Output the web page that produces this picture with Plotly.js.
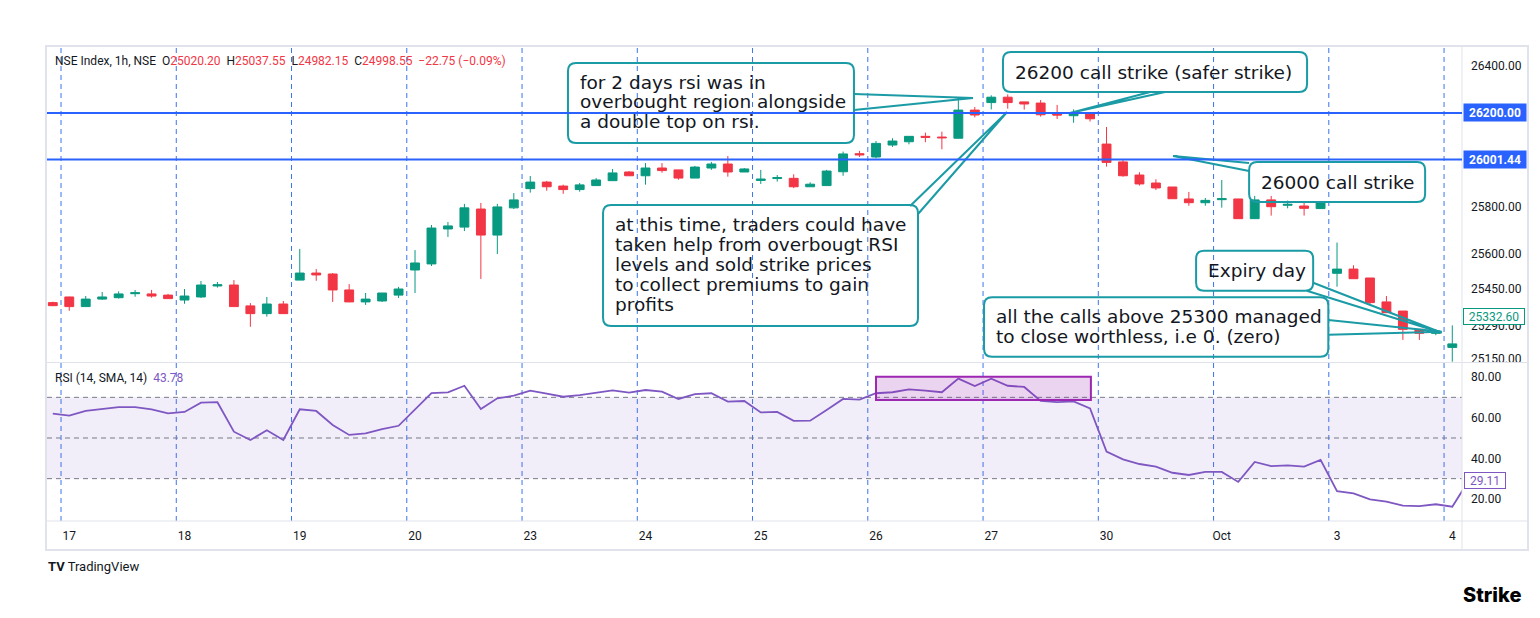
<!DOCTYPE html>
<html>
<head>
<meta charset="utf-8">
<script src="https://cdn.plot.ly/plotly-3.0.1.min.js"></script>
<style>
    html, body { margin: 0; padding: 0; background: #ffffff; }
    #chart { width: 1540px; height: 618px; }
</style>
</head>
<body>
<div id="chart"></div>
<script>
// NSE index, 1h bars, 16 Sep (last bar) .. 4 Oct. Bar index 0 = last bar of the 16th.
const opens = [25391, 25415, 25374, 25406, 25412, 25429, 25428, 25423, 25402, 25415, 25462, 25466, 25377, 25344, 25385,
    25487, 25517, 25513, 25445, 25394, 25398, 25423, 25530, 25556, 25705, 25713, 25790, 25679, 25795,
    25877, 25905, 25888, 25873, 25890, 25911, 25948, 25932, 25965, 25957, 25922, 25965, 25982, 25948,
    25912, 25920, 25921, 25885, 25890, 25949, 26026, 26012, 26063, 26077, 26100, 26097, 26092, 26212,
    26244, 26267, 26247, 26242, 26195, 26188, 26201, 26067, 25991, 25935, 25901, 25884, 25833, 25817,
    25830, 25833, 25749, 25829, 25806, 25803, 25792, 25516, 25534, 25496, 25394, 25355, 25277, 25260,
    25200, 25212];
const highs = [25395, 25416, 25419, 25436, 25439, 25445, 25445, 25428, 25449, 25483, 25479, 25487, 25389, 25415, 25398,
    25620, 25534, 25517, 25470, 25432, 25432, 25458, 25615, 25722, 25735, 25812, 25816, 25812, 25858,
    25931, 25910, 25894, 25901, 25922, 25961, 25952, 25986, 25986, 25957, 25974, 25991, 26016, 25965,
    25957, 25935, 25938, 25904, 25957, 26035, 26038, 26080, 26092, 26100, 26116, 26120, 26255, 26225,
    26275, 26279, 26247, 26255, 26234, 26215, 26201, 26140, 26003, 25947, 25917, 25884, 25863, 25837,
    25914, 25833, 25846, 25846, 25826, 25820, 25821, 25647, 25550, 25496, 25419, 25355, 25277, 25277,
    25294, 25367];
const lows = [25376, 25356, 25373, 25402, 25408, 25416, 25412, 25407, 25386, 25411, 25455, 25373, 25288, 25331, 25343,
    25487, 25484, 25394, 25393, 25381, 25394, 25411, 25432, 25547, 25671, 25696, 25492, 25598, 25790,
    25860, 25868, 25855, 25864, 25889, 25910, 25932, 25894, 25945, 25915, 25922, 25957, 25928, 25948,
    25897, 25907, 25879, 25885, 25889, 25932, 26012, 26006, 26055, 26066, 26075, 26045, 26091, 26181,
    26215, 26218, 26214, 26184, 26174, 26158, 26163, 25971, 25928, 25890, 25871, 25834, 25804, 25804,
    25796, 25748, 25748, 25762, 25793, 25762, 25791, 25459, 25493, 25385, 25348, 25232, 25232, 25252,
    25139, 25207];
const closes = [25378, 25374, 25406, 25415, 25428, 25433, 25419, 25408, 25419, 25466, 25467, 25374, 25344, 25385, 25344,
    25517, 25509, 25445, 25394, 25406, 25432, 25449, 25560, 25709, 25718, 25795, 25679, 25799, 25829,
    25905, 25885, 25873, 25893, 25914, 25944, 25932, 25965, 25954, 25922, 25969, 25982, 25948, 25961,
    25918, 25924, 25885, 25896, 25952, 26025, 26021, 26070, 26080, 26100, 26096, 26094, 26212, 26191,
    26267, 26244, 26238, 26192, 26191, 26201, 26175, 25989, 25932, 25897, 25880, 25834, 25817, 25827,
    25834, 25749, 25829, 25800, 25810, 25793, 25817, 25534, 25493, 25391, 25348, 25277, 25260, 25270,
    25215, 25333];
const rsiValues = [62.0, 61.0, 63.3, 64.1, 65.2, 65.2, 64.1, 62.1, 62.8, 67.4, 67.6, 53.1, 49.0, 53.8, 49.0,
    64.1, 63.3, 56.4, 51.5, 52.3, 54.4, 56.0, 64.3, 72.1, 72.4, 75.7, 64.3, 69.5, 70.8,
    73.3, 71.8, 70.3, 71.1, 72.1, 73.4, 72.3, 73.6, 72.8, 69.2, 71.6, 72.0, 67.9, 68.2,
    62.6, 62.8, 58.4, 58.5, 63.8, 69.2, 68.9, 72.0, 72.5, 73.9, 73.3, 72.5, 79.2, 75.6,
    79.2, 75.7, 75.1, 68.2, 67.6, 68.0, 64.6, 43.3, 39.5, 37.2, 35.9, 32.9, 31.8, 33.3,
    33.3, 28.4, 38.2, 36.2, 36.5, 35.9, 39.2, 23.9, 22.8, 19.8, 18.7, 16.7, 16.5, 17.4,
    16.2, 29.11];
const dayLabels = ["17", "18", "19", "20", "23", "24", "25", "26", "27", "30", "Oct", "3", "4"];
const priceTicks = [26400, 25800, 25600, 25450, 25290, 25150];
const rsiTicks = [80, 60, 40, 20];
const strikeLevels = [26200, 26001.44];
const lastPrice = 25332.60;
const lastRsi = 29.11;
const BARS_PER_DAY = 7;

const GREEN = "#089981";
const RED = "#F23645";
const BLUE = "#2962FF";
const TEAL = "#1A9BA5";
const PURPLE = "#7E57C2";
const TEXT = "#131722";
const FONT = "Roboto, 'Liberation Sans', sans-serif";
const CALLOUT_FONT = "'DejaVu Sans', 'Noto Sans', sans-serif";

// plot area geometry (px) and scale helpers for drawings
const M = { l: 47, r: 78, t: 46, b: 97 };
const PLOT_W = 1540 - M.l - M.r;
const PLOT_H = 618 - M.t - M.b;
const BAR_PX = 16.464;
const PRICE_PER_PX = 4.2644;
const paperX = (px) => (px - M.l) / PLOT_W;
const paperY = (py) => (618 - M.b - py) / PLOT_H;

const bars = opens.map((_, i) => i);
const dayStarts = dayLabels.map((_, d) => 1 + d * BARS_PER_DAY);
const sessionBreaks = dayLabels.map((_, d) => 0.5 + d * BARS_PER_DAY);

// callout drawings: box [x0, x1, yBottom, yTop] in bar index / price, tail = base, tip, base
const callouts = [
    { box: [31.29, 48.66, 26071.6, 26412.8], tail: [[48.66, 26280.6], [55.89, 26263.5], [48.66, 26212.4]],
      lines: ["for 2 days rsi was in", "overbought region alongside", "a double top on rsi."], padTop: 19, lineH: 19.6 },
    { box: [33.42, 52.55, 25291.3, 25807.3], tail: [[52.07, 25803.0], [57.96, 26203.8], [52.55, 25768.9]],
      lines: ["at this time, traders could have", "taken help from overbougt RSI", "levels and sold strike prices",
          "to collect premiums to gain", "profits"], padTop: 19.5, lineH: 20 },
    { box: [57.71, 76.18, 26289.1, 26459.7], tail: [[66.65, 26289.1], [61.78, 26199.6], [67.55, 26289.1]],
      lines: ["26200 call strike (safer strike)"], padTop: 20, lineH: 20 },
    { box: [72.66, 83.35, 25820.0, 25990.6], tail: [[72.66, 25986.4], [68.04, 26016.2], [72.66, 25952.2]],
      lines: ["26000 call strike"], padTop: 20, lineH: 20 },
    { box: [69.44, 76.55, 25441.8, 25612.4], tail: [[76.55, 25475.9], [84.36, 25262.7], [76.16, 25441.8]],
      lines: ["Expiry day"], padTop: 19.5, lineH: 20 },
    { box: [56.56, 77.47, 25160.3, 25413.6], tail: [[77.47, 25316.8], [84.36, 25267.0], [77.47, 25254.1]],
      lines: ["all the calls above 25300 managed", "to close worthless, i.e 0. (zero)"], padTop: 19.4, lineH: 20 }
];

function roundedBoxPath(box, radiusPx) {
    const [x0, x1, y0, y1] = box;
    const rx = radiusPx / BAR_PX;
    const ry = radiusPx * PRICE_PER_PX;
    return `M ${x0 + rx},${y1} L ${x1 - rx},${y1} Q ${x1},${y1} ${x1},${y1 - ry} ` +
        `L ${x1},${y0 + ry} Q ${x1},${y0} ${x1 - rx},${y0} L ${x0 + rx},${y0} Q ${x0},${y0} ${x0},${y0 + ry} ` +
        `L ${x0},${y1 - ry} Q ${x0},${y1} ${x0 + rx},${y1} Z`;
}

const candles = {
    type: "candlestick",
    x: bars,
    open: opens,
    high: highs,
    low: lows,
    close: closes,
    xaxis: "x",
    yaxis: "y",
    increasing: { line: { color: GREEN, width: 1 }, fillcolor: GREEN },
    decreasing: { line: { color: RED, width: 1 }, fillcolor: RED },
    whiskerwidth: 0,
    hoverinfo: "skip",
    showlegend: false
};

const rsiLine = {
    type: "scatter",
    mode: "lines",
    x: bars,
    y: rsiValues,
    xaxis: "x",
    yaxis: "y2",
    line: { color: PURPLE, width: 1.8 },
    hoverinfo: "skip",
    showlegend: false
};

const shapes = [];

// session breaks across both panes
sessionBreaks.forEach((k) => shapes.push({
    type: "line", xref: "x", yref: "paper", x0: k, x1: k, y0: 0, y1: 1,
    line: { color: "#3B73F0", width: 1, dash: "5px,4px" }, layer: "below"
}));

// RSI band and levels
shapes.push({
    type: "rect", xref: "paper", yref: "y2", x0: 0, x1: 1, y0: 30, y1: 70,
    fillcolor: "rgba(126,87,194,0.1)", line: { width: 0 }, layer: "below"
});
[70, 50, 30].forEach((lvl) => shapes.push({
    type: "line", xref: "paper", yref: "y2", x0: 0, x1: 1, y0: lvl, y1: lvl,
    line: { color: "#787B86", width: 1, dash: "5px,4px" }, layer: "below"
}));

// overbought highlight on RSI
shapes.push({
    type: "rect", xref: "x", yref: "y2", x0: 50, x1: 63.05, y0: 68.7, y1: 80.1,
    fillcolor: "rgba(156,39,176,0.2)", line: { color: "#9C27B0", width: 2 }, layer: "above"
});

// frame, pane separator, axis borders
const frameColor = "#E0E3EB";
shapes.push(
    { type: "rect", xref: "paper", yref: "paper", x0: paperX(46), x1: paperX(1528), y0: paperY(550), y1: paperY(46),
      line: { color: frameColor, width: 2 }, fillcolor: "rgba(0,0,0,0)", layer: "above" },
    { type: "line", xref: "paper", yref: "paper", x0: 1, x1: 1, y0: paperY(550), y1: paperY(46),
      line: { color: frameColor, width: 1 }, layer: "above" },
    { type: "line", xref: "paper", yref: "paper", x0: 0, x1: paperX(1528), y0: 0, y1: 0,
      line: { color: frameColor, width: 1 }, layer: "above" },
    { type: "line", xref: "paper", yref: "paper", x0: 0, x1: paperX(1528), y0: paperY(362.5), y1: paperY(362.5),
      line: { color: frameColor, width: 1 }, layer: "above" }
);

// callout boxes (no fill, like the drawing tool) and tails
callouts.forEach((c) => {
    shapes.push({
        type: "path", xref: "x", yref: "y", path: roundedBoxPath(c.box, 8),
        fillcolor: "rgba(0,0,0,0)", line: { color: TEAL, width: 2 }, layer: "above"
    });
    const [b1, tip, b2] = c.tail;
    shapes.push({
        type: "path", xref: "x", yref: "y",
        path: `M ${b1[0]},${b1[1]} L ${tip[0]},${tip[1]} L ${b2[0]},${b2[1]}`,
        fillcolor: "rgba(0,0,0,0)", line: { color: TEAL, width: 2 }, layer: "above"
    });
});

// horizontal strike lines
strikeLevels.forEach((lvl) => shapes.push({
    type: "line", xref: "paper", yref: "y", x0: 0, x1: 1, y0: lvl, y1: lvl,
    line: { color: BLUE, width: 2 }, layer: "above"
}));

const annotations = [];

callouts.forEach((c) => {
    c.lines.forEach((line, i) => annotations.push({
        xref: "x", yref: "y", x: c.box[0], y: c.box[3],
        xanchor: "left", yanchor: "middle", xshift: 10, yshift: -(c.padTop + i * c.lineH),
        text: line, showarrow: false,
        font: { family: CALLOUT_FONT, size: 18.5, color: TEXT }
    }));
});

// price-axis labels
strikeLevels.forEach((lvl) => annotations.push({
    xref: "paper", yref: "y", x: 1, y: lvl, xanchor: "left", yanchor: "middle", xshift: 1,
    text: `<b>${lvl.toFixed(2)}</b>`, showarrow: false, bgcolor: BLUE, borderpad: 1, width: 60, height: 15,
    font: { family: FONT, size: 12, color: "#ffffff" }
}));
annotations.push({
    xref: "paper", yref: "y", x: 1, y: lastPrice, xanchor: "left", yanchor: "middle", xshift: 1,
    text: lastPrice.toFixed(2), showarrow: false, bgcolor: "#ffffff", bordercolor: GREEN, borderwidth: 1,
    borderpad: 0, width: 60, height: 15, font: { family: FONT, size: 12, color: GREEN }
});
annotations.push({
    xref: "paper", yref: "y2", x: 1, y: lastRsi, xanchor: "left", yanchor: "middle", xshift: 2,
    text: lastRsi.toFixed(2), showarrow: false, bgcolor: "#ffffff", bordercolor: PURPLE, borderwidth: 1,
    borderpad: 0, width: 40, height: 15, font: { family: FONT, size: 12, color: PURPLE }
});

// legend-style headers
const red = (t) => `<span style="color:${RED}">${t}</span>`;
const gap = "\u00a0\u00a0";
annotations.push({
    xref: "paper", yref: "paper", x: paperX(53), y: paperY(61), xanchor: "left", yanchor: "middle",
    showarrow: false, font: { family: FONT, size: 12, color: TEXT },
    text: `NSE Index, 1h, NSE${gap}O${red("25020.20")}${gap}H${red("25037.55")}${gap}L${red("24982.15")}` +
        `${gap}C${red("24998.55")}${gap}${red("\u221222.75 (\u22120.09%)")}`
});
annotations.push({
    xref: "paper", yref: "paper", x: paperX(53), y: paperY(378), xanchor: "left", yanchor: "middle",
    showarrow: false, font: { family: FONT, size: 12, color: TEXT },
    text: `RSI (14, SMA, 14)${gap}<span style="color:${PURPLE}">43.78</span>`
});

// watermarks
annotations.push({
    xref: "paper", yref: "paper", x: paperX(46), y: paperY(566), xanchor: "left", yanchor: "middle",
    showarrow: false, font: { family: FONT, size: 13, color: TEXT },
    text: "<b>TV</b> TradingView"
});
annotations.push({
    xref: "paper", yref: "paper", x: paperX(1523), y: paperY(595), xanchor: "right", yanchor: "middle",
    showarrow: false, font: { family: "Inter, 'DejaVu Sans', sans-serif", size: 20, color: "#000000", weight: 800 },
    text: "Strike"
});

const layout = {
    width: 1540,
    height: 618,
    margin: M,
    paper_bgcolor: "#ffffff",
    plot_bgcolor: "#ffffff",
    showlegend: false,
    boxgap: 0.23,
    xaxis: {
        domain: [0, 1],
        range: [-0.352, 85.59],
        anchor: "y2",
        tickvals: dayStarts,
        ticktext: dayLabels,
        tickfont: { family: FONT, size: 12, color: TEXT },
        ticks: "",
        ticklabelstandoff: 6,
        showgrid: false,
        zeroline: false,
        showline: false,
        rangeslider: { visible: false },
        fixedrange: true
    },
    yaxis: {
        domain: [paperY(362), 1],
        // 26400 sits at y=66px, 1px = PRICE_PER_PX points
        range: [26400 - (362 - 66) * PRICE_PER_PX, 26400 + (66 - 46) * PRICE_PER_PX],
        side: "right",
        tickvals: priceTicks,
        ticktext: priceTicks.map((v) => v.toFixed(2)),
        tickfont: { family: FONT, size: 12, color: TEXT },
        ticks: "",
        ticklabelstandoff: 8,
        showgrid: false,
        zeroline: false,
        showline: false,
        fixedrange: true
    },
    yaxis2: {
        domain: [0, paperY(363)],
        range: [80 - (521 - 377) / 2.033, 80 + (377 - 363) / 2.033],
        side: "right",
        anchor: "x",
        tickvals: rsiTicks,
        ticktext: rsiTicks.map((v) => v.toFixed(2)),
        tickfont: { family: FONT, size: 12, color: TEXT },
        ticks: "",
        ticklabelstandoff: 8,
        showgrid: false,
        zeroline: false,
        showline: false,
        fixedrange: true
    },
    shapes: shapes,
    annotations: annotations
};

Plotly.newPlot("chart", [candles, rsiLine], layout, { displayModeBar: false, staticPlot: true });
</script>
</body>
</html>
